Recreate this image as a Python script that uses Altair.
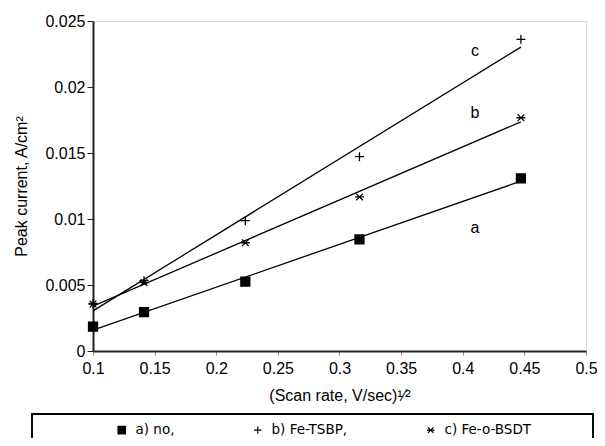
import altair as alt
import pandas as pd

# ---- data ----
x_vals = [0.1, 0.1414, 0.2236, 0.3162, 0.4472]          # (scan rate)^1/2
no_vals = [0.00184, 0.00295, 0.00525, 0.00846, 0.01308]  # a) no
tsbp_vals = [0.0036, 0.00533, 0.00987, 0.01472, 0.02361]  # b) Fe-TSBP (+)
bsdt_vals = [0.00356, 0.00518, 0.0082, 0.01167, 0.01767]  # c) Fe-o-BSDT (*)
series_names = ["a) no,", "b) Fe-TSBP,", "c) Fe-o-BSDT"]

line_labels = ["a", "b", "c"]
label_x = [0.41, 0.41, 0.41]
label_y = [0.0093, 0.0180, 0.0227]

x_ticks = [0.1, 0.15, 0.2, 0.25, 0.3, 0.35, 0.4, 0.45, 0.5]
y_ticks = [0, 0.005, 0.01, 0.015, 0.02, 0.025]

rows = []
for name, vals in zip(series_names, [no_vals, tsbp_vals, bsdt_vals]):
    for xv, yv in zip(x_vals, vals):
        rows.append({"x": xv, "y": yv, "series": name})
df = pd.DataFrame(rows)
lab_df = pd.DataFrame({"label": line_labels, "x": label_x, "y": label_y})

FONT = "Liberation Sans"
plus_path = "M-1,0L1,0M0,-1L0,1"
star_path = "M-1,0L1,0M-0.75,-0.75L0.75,0.75M-0.75,0.75L0.75,-0.75"

x_enc = alt.X("x:Q", scale=alt.Scale(domain=[0.1, 0.5], nice=False, zero=False),
              axis=alt.Axis(values=x_ticks, format=".2~f", title="(Scan rate, V/sec)¹⁄²",
                            grid=False, tickSize=4, tickColor="#888", labelPadding=5,
                            labelFlush=False, labelOverlap=False,
                            domainColor="#222", domainWidth=2, labelFont=FONT,
                            labelFontSize=16, labelColor="black", titleFont=FONT,
                            titleFontSize=16, titleFontWeight="normal", titleColor="black",
                            titlePadding=11))
y_enc = alt.Y("y:Q", scale=alt.Scale(domain=[0, 0.025], nice=False),
              axis=alt.Axis(values=y_ticks, format=".3~f", title="Peak current, A/cm²",
                            grid=False, tickSize=6, tickColor="#222", labelPadding=2,
                            labelFlush=False,
                            domainColor="#222", domainWidth=2, labelFont=FONT,
                            labelFontSize=16, labelColor="black", titleFont=FONT,
                            titleFontSize=16, titleFontWeight="normal", titleColor="black",
                            titlePadding=15))

legend_cfg = dict(orient="none", legendX=22, legendY=402, direction="horizontal",
                  columns=3, title=None, labelFont="DejaVu Sans",
                  labelFontSize=13.5, labelColor="black", symbolSize=55,
                  symbolStrokeWidth=1.2, labelOffset=7, columnPadding=76, padding=0)

base = alt.Chart(df)

lines = base.transform_regression("x", "y", groupby=["series"]).mark_line(
    color="black", strokeWidth=1.3
).encode(x=x_enc, y=y_enc, detail="series:N")

points = base.mark_point(filled=False, size=80, strokeWidth=1.3, opacity=1).encode(
    x=x_enc,
    y=y_enc,
    shape=alt.Shape("series:N",
                    scale=alt.Scale(domain=series_names, range=["square", plus_path, star_path]),
                    legend=alt.Legend(**legend_cfg)),
    fill=alt.Fill("series:N",
                  scale=alt.Scale(domain=series_names, range=["black", "transparent", "transparent"]),
                  legend=alt.Legend(**legend_cfg)),
    stroke=alt.Stroke("series:N",
                      scale=alt.Scale(domain=series_names, range=["black", "black", "black"]),
                      legend=alt.Legend(**legend_cfg)),
)

labels = alt.Chart(lab_df).mark_text(font=FONT, fontSize=16, color="black").encode(
    x="x:Q", y="y:Q", text="label:N"
)

legend_box = alt.Chart(lab_df).mark_rect(fillOpacity=0, stroke="black", strokeWidth=1.3).encode(
    x=alt.value(-61), x2=alt.value(500), y=alt.value(393), y2=alt.value(470)
)

chart = alt.layer(legend_box, lines, points, labels).properties(
    width=493, height=330,
    autosize=alt.AutoSizeParams(type="none"),
    padding={"left": 85, "top": 13, "right": 11, "bottom": 87},
).configure_view(stroke="#222", strokeWidth=1.5).configure(background="white")

chart.save("out.html", embed_options={"renderer": "svg", "actions": False})
